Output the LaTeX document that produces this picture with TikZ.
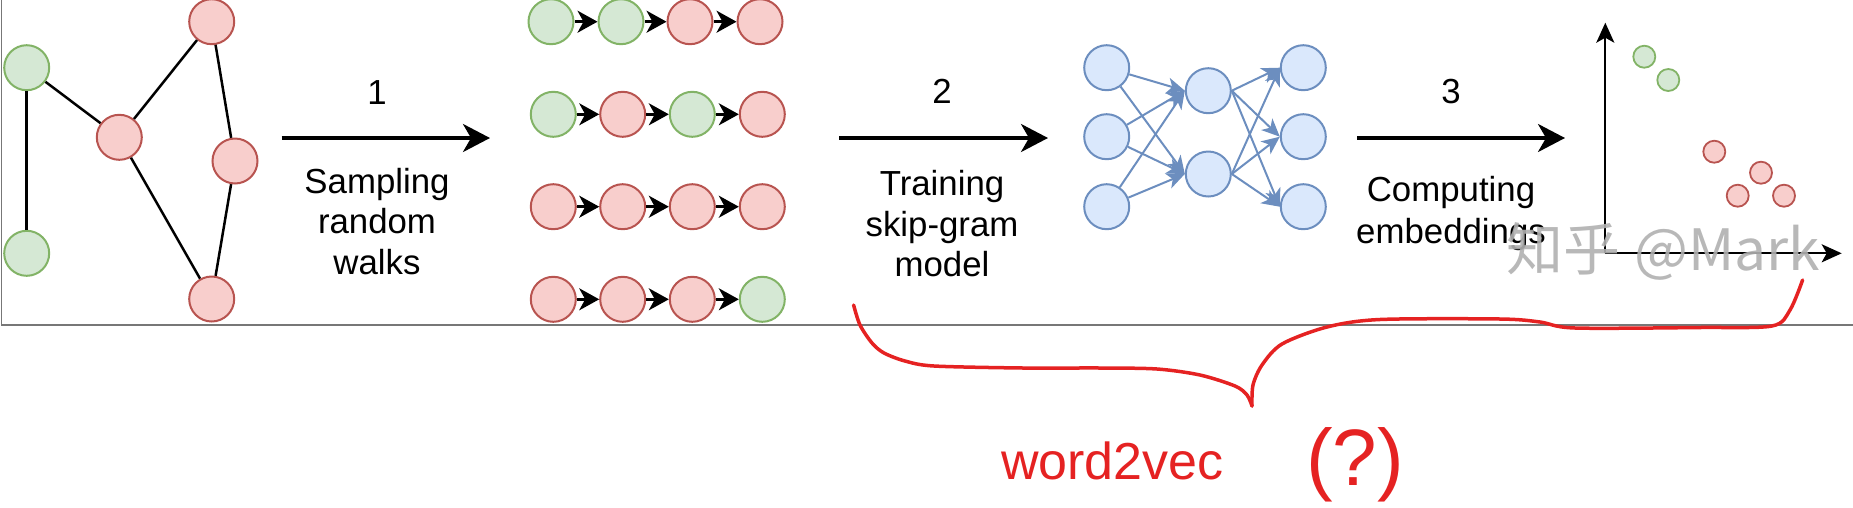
\documentclass[tikz,border=0pt]{standalone}
\usepackage{fontspec}
\setmainfont{Liberation Sans}
\newfontfamily\cjkfont{Noto Sans CJK SC}
\usetikzlibrary{arrows.meta}
\definecolor{gfill}{HTML}{D5E8D4}
\definecolor{gdraw}{HTML}{82B366}
\definecolor{rfill}{HTML}{F8CECC}
\definecolor{rdraw}{HTML}{B85450}
\definecolor{bfill}{HTML}{DAE8FC}
\definecolor{bdraw}{HTML}{6C8EBF}
\definecolor{hred}{HTML}{E52222}
\definecolor{framegray}{HTML}{777777}
\definecolor{wmgray}{HTML}{B0B0B0}
\begin{document}
\begin{tikzpicture}[x=1pt,y=-1pt,
  gnode/.style={circle, draw=gdraw, fill=gfill, line width=2pt, minimum size=45pt, inner sep=0pt},
  rnode/.style={circle, draw=rdraw, fill=rfill, line width=2pt, minimum size=45pt, inner sep=0pt},
  bnode/.style={circle, draw=bdraw, fill=bfill, line width=2pt, minimum size=45pt, inner sep=0pt},
  gdot/.style={circle, draw=gdraw, fill=gfill, line width=1.8pt, minimum size=22pt, inner sep=0pt},
  rdot/.style={circle, draw=rdraw, fill=rfill, line width=1.8pt, minimum size=22pt, inner sep=0pt},
  gedge/.style={line width=2.5pt},
  walkarrow/.style={line width=2.5pt, -{Stealth[length=20pt,width=22pt,inset=6pt]}},
  bigarrow/.style={line width=3.5pt, -{Stealth[length=27pt,width=28pt,inset=8pt]}},
  nnarrow/.style={draw=bdraw, line width=2pt, -{Stealth[length=18pt,width=16pt,inset=5pt,fill=bdraw]}},
  axis/.style={line width=2.2pt, -{Stealth[length=20pt,width=18pt,inset=5pt]}},
  lbl/.style={font=\fontsize{34.8}{39}\selectfont, anchor=base, inner sep=0pt},
  hand/.style={draw=hred, line width=3.5pt, line cap=round, line join=round},
  handtext/.style={text=hred, anchor=base west, inner sep=0pt},
  frame/.style={draw=framegray, line width=1.5pt}
]
\useasboundingbox (0,0) rectangle (1853,507);
% frame
\draw[frame] (1.5,0) -- (1.5,325) -- (1853,325);

% ---- graph
\node[gnode] (g1) at (26.7,67.7) {};
\node[gnode] (g2) at (26.7,253.3) {};
\node[rnode] (r1) at (119.3,137.3) {};
\node[rnode] (r2) at (211.7,21.7) {};
\node[rnode] (r3) at (235,161) {};
\node[rnode] (r4) at (211.7,299) {};
\draw[gedge] (g1) -- (g2);
\draw[gedge] (g1) -- (r1);
\draw[gedge] (r1) -- (r2);
\draw[gedge] (r1) -- (r4);
\draw[gedge] (r2) -- (r3);
\draw[gedge] (r3) -- (r4);

% ---- step 1
\coordinate (a1s) at (281.7,138);
\coordinate (a1e) at (490,138);
\draw[bigarrow] (a1s) -- (a1e);
\node[lbl] (n1) at (377,104) {1};
\node[lbl] (s1a) at (377,193) {Sampling};
\node[lbl] (s1b) at (377,233.5) {random};
\node[lbl] (s1c) at (377,274) {walks};

% ---- walks
\node[gnode] (w11) at (551,21.7) {};
\node[gnode] (w12) at (621,21.7) {};
\node[rnode] (w13) at (690,21.7) {};
\node[rnode] (w14) at (760,21.7) {};
\node[gnode] (w21) at (553.3,114.3) {};
\node[rnode] (w22) at (622.7,114.3) {};
\node[gnode] (w23) at (692.3,114.3) {};
\node[rnode] (w24) at (762.3,114.3) {};
\node[rnode] (w31) at (553.3,206.7) {};
\node[rnode] (w32) at (622.7,206.7) {};
\node[rnode] (w33) at (692.3,206.7) {};
\node[rnode] (w34) at (762.3,206.7) {};
\node[rnode] (w41) at (553.3,299.3) {};
\node[rnode] (w42) at (622.7,299.3) {};
\node[rnode] (w43) at (692.3,299.3) {};
\node[gnode] (w44) at (762.3,299.3) {};
\foreach \r in {1,2,3,4}{
  \draw[walkarrow] (w\r1) -- (w\r2);
  \draw[walkarrow] (w\r2) -- (w\r3);
  \draw[walkarrow] (w\r3) -- (w\r4);
}

% ---- step 2
\coordinate (a2s) at (839,138);
\coordinate (a2e) at (1048,138);
\draw[bigarrow] (a2s) -- (a2e);
\node[lbl] (n2) at (942,103) {2};
\node[lbl] (s2a) at (942,195.5) {Training};
\node[lbl] (s2b) at (942,236) {skip-gram};
\node[lbl] (s2c) at (942,276) {model};

% ---- network
\node[bnode] (in1) at (1106.7,67.7) {};
\node[bnode] (in2) at (1106.7,136.7) {};
\node[bnode] (in3) at (1106.7,206.7) {};
\node[bnode] (h1) at (1208.3,90.7) {};
\node[bnode] (h2) at (1208.3,174) {};
\node[bnode] (o1) at (1303.3,67.7) {};
\node[bnode] (o2) at (1303.3,136.7) {};
\node[bnode] (o3) at (1303.3,206.7) {};
\foreach \i in {1,2,3}{
  \foreach \j in {1,2}{
    \draw[nnarrow] (in\i) -- (h\j.west);
    \draw[nnarrow] (h\j.east) -- (o\i.west);
  }
}

% ---- step 3
\coordinate (a3s) at (1357,138);
\coordinate (a3e) at (1565,138);
\draw[bigarrow] (a3s) -- (a3e);
\node[lbl] (n3) at (1451,103) {3};
\node[lbl] (s3a) at (1451,201.7) {Computing};
\node[lbl] (s3b) at (1451,243.5) {embeddings};

% ---- embedding plot
\coordinate (orig) at (1605.3,253.3);
\coordinate (ytip) at (1605.3,22.7);
\coordinate (xtip) at (1841.7,253.3);
\draw[axis] (orig) -- (ytip);
\draw[axis] (orig) -- (xtip);
\node[gdot] (d1) at (1644.3,56.7) {};
\node[gdot] (d2) at (1668.3,80) {};
\node[rdot] (d3) at (1714.3,151.7) {};
\node[rdot] (d4) at (1761,172.7) {};
\node[rdot] (d5) at (1737.7,195.7) {};
\node[rdot] (d6) at (1784,195.7) {};

% watermark
\node[anchor=base west, inner sep=0pt, text=wmgray, opacity=0.9,
      font=\cjkfont\fontsize{57}{60}\selectfont] (wm) at (1506,270) {知乎\hspace{14pt}@Mark};

% ---- handwritten brace
\draw[hand] plot[smooth, tension=0.5] coordinates {
  (853.6,305) (860,325) (872,343) (884,353) (905,361) (934,366) (1023,368)
  (1100,368) (1157,369) (1200,375) (1235,386) (1247,395) (1252,406)};
\draw[hand] plot[smooth, tension=0.5] coordinates {
  (1252,406) (1253,385) (1262,365) (1282,344) (1327,327) (1380,319.5)
  (1500,319) (1540,322) (1575,328) (1700,327.5) (1772,326) (1790,310) (1802.6,280)};
\node[handtext, font=\fontsize{52}{56}\selectfont] (w2v) at (1001,479) {word2vec};
\node[handtext, font=\fontsize{80}{84}\selectfont] (qm) at (1306,485) {(?)};
\end{tikzpicture}
\end{document}
